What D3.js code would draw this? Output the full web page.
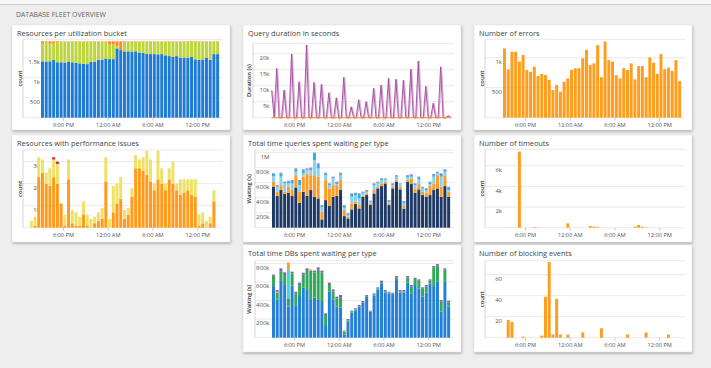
<!DOCTYPE html>
<html>
<head>
<meta charset="utf-8">
<script src="https://cdnjs.cloudflare.com/ajax/libs/d3/7.8.5/d3.min.js"></script>
<style>
  body { margin: 0; background: #eeeeee; }
  svg { display: block; font-family: 'Open Sans', sans-serif; }
</style>
</head>
<body>
<div id="viz"></div>
<script>
const day = (h, m, next) => new Date(2018, 4, next ? 2 : 1, h, m || 0);

// shared time axis
const timeTicks = [day(18), day(0, 0, true), day(6, 0, true), day(12, 0, true)];
const binStart = day(15, 0);      // half hour bins from 3:00 PM
const perfStart = day(13, 30);    // perf issues bins start earlier

// Resources per utilization bucket
const utilLow = [1410,1405,1410,1450,1385,1385,1380,1405,1385,1370,1360,1350,
  1340,1395,1395,1450,1450,1480,1465,1465,1735,1690,1658,1660,
  1655,1660,1630,1620,1595,1590,1590,1585,1590,1560,1540,1520,
  1540,1500,1500,1500,1520,1460,1450,1455,1500,1450,1590,1590];
const utilMid = [440,485,440,400,505,515,520,495,515,530,540,550,
  560,505,505,450,450,420,365,365,50,0,222,240,
  245,240,270,280,305,310,310,315,310,340,360,380,
  360,400,400,400,370,440,450,445,400,450,310,310];
const utilHigh = [60,20,60,60,20,10,10,10,10,10,10,10,
  10,10,10,10,10,10,80,80,125,220,30,10,
  10,10,10,10,10,10,10,10,10,10,10,10,
  10,10,10,10,20,10,10,10,10,10,10,10];

// Resources with performance issues
const perfHigh = [0,1,23,25,20,19,23,20,11,1, 22,2,1,1,6,1,0,2,3,4,
  21,0,7,11,13,4,6,14,27,27, 26,24,21,17,22,20,17,22,20,17,
  15,16,17,15,14,1,2,0,2,12];
const perfMid = [3,4,9,6,5,8,8,9,0,5, 9,6,6,4,6,5,4,3,4,5,
  11,4,12,9,10,4,3,4,6,4, 6,11,10,3,13,7,3,5,10,3,
  7,6,5,7,8,5,5,3,3,5];
const perfCrit = [0,0,0,0,0,0,1,1,0,0, 0,0,0,0,0,0,0,0,0,0,
  0,0,0,0,0,0,0,0,0,0, 0,0,0,0,0,0,0,0,0,0,
  0,0,0,0,0,0,0,0,0,0];

// Query duration in seconds (k), 20 minute samples from 3:00 PM
const durationK = [8.5, 0, 15.4,
  0, 0, 8.6,  0, 0, 19.9,  0, 0, 11.2,  0, 0, 22.7,  0, 0, 11.0,
  0, 0, 10.4,  0, 0, 7.8,  0, 0, 6.2,  0, 0, 12.6,  0, 0, 3.4,
  0, 0, 5.6,  0, 0, 5.0,  0, 0, 9.2,  0, 0, 10.2,  0, 0, 12.3,
  0, 0, 12.0,  0, 0, 11.7,  0, 0, 15.2,  0, 0, 17.7,  0, 0, 9.8,
  0, 0, 4.5,  0, 0, 15.9,
  0, 0, 0.6, 0];
const durationOther = [[day(15, 0), 0], [day(15, 0, true), 0]];

// Total time queries spent waiting per type (k)
const qwCpu = [546,422,502,449,466,422,537,333,480,426,502,413,
  390,111,368,289,413,426,502,155,124,244,315,257,
  413,435,302,457,524,555,590,302,524,613,511,253,
  613,582,466,511,435,413,435,502,524,413,555,413];
const qwLock = [67,58,66,31,80,80,163,147,200,298,198,287,
  290,102,267,235,155,142,133,80,23,80,31,45,
  17,22,22,45,22,35,23,22,22,22,35,36,
  22,75,58,71,45,53,120,88,176,133,145,67];
const qwIo = [75,66,112,110,44,88,46,88,44,44,68,200,
  110,58,67,44,89,14,67,31,22,89,89,88,
  27,23,22,66,44,45,31,22,22,45,36,35,
  36,23,44,62,44,36,27,90,24,134,46,22];
const qwMem = [28,14,43,15,28,35,32,57,41,8,20,90,
  57,23,23,14,15,23,23,28,14,36,23,59,
  15,14,8,14,15,14,7,14,14,14,4,23,
  23,22,14,28,14,14,23,27,14,36,23,36];
const qwOther = [8,8,10,8,8,10,12,10,12,14,12,10,
  10,8,8,8,8,8,8,8,8,8,8,8,
  8,8,6,8,8,8,6,8,8,8,4,8,
  8,8,8,8,8,8,8,8,8,8,8,8];

// Total time DBs spent waiting per type (k)
const dbCpu = [556,413,610,567,334,560,341,449,538,513,406,434,
  406,395,136,495,413,334,323,36,172,269,291,334,
  377,441,280,452,520,585,485,477,470,621,485,485,
  592,477,567,531,442,485,585,556,603,280,603,334];
const dbIo = [110,70,100,108,90,133,136,118,140,216,316,270,
  330,305,108,72,85,90,115,30,15,10,13,8,
  8,9,5,13,10,14,14,8,5,28,14,14,
  57,75,64,82,85,67,28,201,175,111,129,49];
const dbLog = [0,0,0,0,312,0,0,0,0,0,0,0,
  0,0,0,0,0,0,0,0,0,0,0,0,
  0,0,0,0,0,0,0,0,0,0,0,0,
  0,0,0,0,0,0,0,0,0,0,0,0];
const dbLock = [0,10,0,0,72,0,0,0,0,0,14,0,
  0,0,0,0,0,0,0,14,0,0,0,0,
  0,0,0,0,0,0,0,0,0,0,0,0,
  0,0,0,0,0,0,0,0,0,0,0,0];
const dbOther = [14,20,37,29,0,18,18,25,22,18,0,18,
  21,22,18,25,22,18,22,0,14,12,12,10,
  10,10,6,12,12,15,14,10,10,15,14,14,
  15,15,15,15,15,15,15,15,15,15,15,15];

// Number of errors / timeouts / blocking events
const errors = [1155,805,1100,1100,935,1045,795,765,850,695,730,710,
  630,460,545,435,600,655,795,825,825,990,1130,880,
  905,1210,675,1270,960,935,710,655,825,795,905,640,
  860,860,675,1005,915,730,1060,810,835,780,960,610];
const timeouts = [0,10,15,10,7360,0,0,0,60,30,0,0,
  0,0,0,0,0,420,0,0,0,0,0,160,
  100,80,0,0,0,0,0,0,0,0,0,100,
  260,100,40,0,0,0,0,0,0,0,0,0];
const blocking = [0,17,15,0,0,1,0,0,0,0,2,39,
  72,3,37,3,0,3,0,0,0,5,0,0,
  0,0,9,0,0,0,0,0,0,3,0,0,
  0,0,5,0,0,0,0,0,3,0,0,0];

const width = 711, height = 368;
const colX = [12, 243, 474];
const rowY = [25, 135, 245];
const rowH = [105, 107, 107];
const panelW = 218;
const plotRight = 211, plotBottom = 92.7;

const x = d3.scaleTime()
  .domain([day(12, 38), day(15, 28, true)])
  .range([11, plotRight]);
const fmtTime = d3.timeFormat('%-I:%M %p');

const svg = d3.select('#viz')
  .append('svg')
  .attr('width', width)
  .attr('height', height);

const filter = svg.append('defs').append('filter')
  .attr('id', 'shadow').attr('x', '-5%').attr('y', '-5%')
  .attr('width', '112%').attr('height', '118%');
filter.append('feDropShadow')
  .attr('dx', 0.6).attr('dy', 1.4).attr('stdDeviation', 0.9)
  .attr('flood-color', '#6f6f6f').attr('flood-opacity', 0.55);

// page header
svg.append('rect').attr('width', width).attr('height', 4).attr('fill', '#f7f7f7');
svg.append('line').attr('x1', 0).attr('x2', width).attr('y1', 4.5).attr('y2', 4.5)
  .attr('stroke', '#c9c9c9');
svg.append('text').attr('x', 16).attr('y', 16.5)
  .attr('font-size', 6.9).attr('fill', '#666')
  .text('DATABASE FLEET OVERVIEW');

function panel(col, row, title) {
  const g = svg.append('g')
    .attr('transform', `translate(${colX[col]},${rowY[row]})`);
  g.append('rect')
    .attr('width', panelW).attr('height', rowH[row])
    .attr('fill', '#fff').attr('stroke', '#e2e2e2').attr('stroke-width', 0.5)
    .attr('filter', 'url(#shadow)');
  g.append('text').attr('x', 5).attr('y', 11)
    .attr('font-size', 7.4).attr('fill', '#444')
    .text(title);
  return g;
}

function frame(g, y, o) {
  const top = y.range()[1];
  g.selectAll('.grid')
    .data([top].concat(o.ticks.map(d => y(d)), [plotBottom]))
    .enter().append('line')
    .attr('x1', o.axisX).attr('x2', plotRight)
    .attr('y1', d => d).attr('y2', d => d)
    .attr('stroke', '#e3e3e3').attr('stroke-width', 0.8);
  g.append('line')
    .attr('x1', o.axisX).attr('x2', o.axisX)
    .attr('y1', top).attr('y2', plotBottom)
    .attr('stroke', '#cccccc').attr('stroke-width', 0.8);
  g.selectAll('.ylab')
    .data(o.ticks).enter().append('text')
    .attr('x', o.labelX).attr('y', d => y(d) + 6.3)
    .attr('text-anchor', 'end')
    .attr('font-size', 6).attr('fill', '#555')
    .text((d, i) => o.labels[i]);
  g.append('text')
    .attr('transform', `translate(${o.titleX},${(top + plotBottom) / 2}) rotate(-90)`)
    .attr('text-anchor', 'middle')
    .attr('font-size', 5.8).attr('font-weight', 600).attr('fill', '#333')
    .text(o.title);

  const xa = g.append('g')
    .attr('transform', `translate(0,${plotBottom})`)
    .call(d3.axisBottom(x).tickValues(timeTicks).tickFormat(fmtTime)
      .tickSize(3).tickPadding(2));
  xa.attr('font-family', null).attr('font-size', null);
  xa.select('.domain').remove();
  xa.selectAll('line').attr('stroke', '#bbbbbb').attr('stroke-width', 0.8);
  xa.selectAll('text').attr('font-size', 5.7).attr('fill', '#555');
}

function bars(g, y, start, series, colors) {
  const keys = series.map((s, k) => 'k' + k);
  const rows = series[0].map((v, i) => {
    const r = {t: d3.timeMinute.offset(start, 30 * i)};
    series.forEach((s, k) => { r[keys[k]] = s[i]; });
    return r;
  });
  const layers = d3.stack().keys(keys)(rows);
  g.append('g').selectAll('g')
    .data(layers).enter().append('g')
    .attr('fill', (d, k) => colors[k])
    .selectAll('rect')
    .data(d => d).enter().append('rect')
    .attr('x', d => x(d.data.t) + 0.35)
    .attr('width', d => x(d3.timeMinute.offset(d.data.t, 30)) - x(d.data.t) - 0.75)
    .attr('y', d => y(d[1]))
    .attr('height', d => Math.max(0, y(d[0]) - y(d[1])));
}

const left = {axisX: 11, labelX: 28, titleX: 10};
const mid = {axisX: 10, labelX: 26.5, titleX: 7.8};

// 1. Resources per utilization bucket
{
  const g = panel(0, 0, 'Resources per utilization bucket');
  const y = d3.scaleLinear().domain([0, 1960]).range([plotBottom, 14.3]);
  frame(g, y, Object.assign({ticks: [500, 1000, 1500], labels: ['500', '1k', '1.5k'], title: 'count'}, left));
  bars(g, y, binStart, [utilLow, utilMid, utilHigh], ['#1f7ad3', '#bdd53d', '#ff8a1f']);
}

// 2. Resources with performance issues
{
  const g = panel(0, 1, 'Resources with performance issues');
  const y = d3.scaleLinear().domain([0, 35.3]).range([plotBottom, 15]);
  frame(g, y, Object.assign({ticks: [10, 20, 30], labels: ['10', '20', '30'], title: 'count'}, left));
  bars(g, y, perfStart, [perfHigh, perfMid, perfCrit], ['#ff9a1c', '#efe067', '#d3212d']);
}

// 3. Query duration in seconds
{
  const g = panel(1, 0, 'Query duration in seconds');
  const y = d3.scaleLinear().domain([0, 23.25]).range([plotBottom, 18.3]);
  frame(g, y, Object.assign({ticks: [5, 10, 15, 20], labels: ['5k', '10k', '15k', '20k'], title: 'Duration (s)'}, mid));
  const pts = durationK.map((v, i) => [d3.timeMinute.offset(binStart, 20 * i), v]);
  const line = d3.line().x(d => x(d[0])).y(d => y(d[1]));
  g.append('path').attr('d', line(pts))
    .attr('transform', 'translate(0.9,0)')
    .attr('fill', 'none').attr('stroke', '#dcb0da').attr('stroke-width', 1.4);
  g.append('path').attr('d', line(pts))
    .attr('fill', 'none').attr('stroke', '#a04a9c').attr('stroke-width', 0.9);
  g.append('path').attr('d', line(durationOther))
    .attr('fill', 'none').attr('stroke', '#ff8a1f').attr('stroke-width', 1);
}

// 4. Total time queries spent waiting per type
{
  const g = panel(1, 1, 'Total time queries spent waiting per type');
  const y = d3.scaleLinear().domain([0, 1036]).range([plotBottom, 15]);
  frame(g, y, Object.assign({ticks: [200, 400, 600, 800, 1000],
    labels: ['200k', '400k', '600k', '800k', '1M'], title: 'Waiting (s)'}, mid, {axisX: 12}));
  bars(g, y, binStart, [qwCpu, qwLock, qwIo, qwMem, qwOther],
    ['#1e3a64', '#ff9c26', '#8fd0ef', '#26b5e6', '#9b5fb2']);
}

// 5. Total time DBs spent waiting per type
{
  const g = panel(1, 2, 'Total time DBs spent waiting per type');
  const y = d3.scaleLinear().domain([0, 829]).range([plotBottom, 15.7]);
  frame(g, y, Object.assign({ticks: [200, 400, 600, 800],
    labels: ['200k', '400k', '600k', '800k'], title: 'Waiting (s)'}, mid, {axisX: 12}));
  bars(g, y, binStart, [dbCpu, dbIo, dbLog, dbLock, dbOther],
    ['#2480d6', '#33a85a', '#40d9d6', '#ff9a26', '#8d5cb0']);
}

// 6. Number of errors
{
  const g = panel(2, 0, 'Number of errors');
  const y = d3.scaleLinear().domain([0, 1307]).range([plotBottom, 14.3]);
  frame(g, y, Object.assign({ticks: [500, 1000], labels: ['500', '1k'], title: 'count'}, left));
  bars(g, y, binStart, [errors], ['#ff9d1f']);
}

// 7. Number of timeouts
{
  const g = panel(2, 1, 'Number of timeouts');
  const y = d3.scaleLinear().domain([0, 7590]).range([plotBottom, 14.3]);
  frame(g, y, Object.assign({ticks: [2000, 4000, 6000], labels: ['2k', '4k', '6k'], title: 'count'}, left));
  bars(g, y, binStart, [timeouts], ['#ff9d1f']);
}

// 8. Number of blocking events
{
  const g = panel(2, 2, 'Number of blocking events');
  const y = d3.scaleLinear().domain([0, 73.3]).range([plotBottom, 15.7]);
  frame(g, y, Object.assign({ticks: [20, 40, 60], labels: ['20', '40', '60'], title: 'count'}, left));
  bars(g, y, binStart, [blocking], ['#ff9d1f']);
}
</script>
</body>
</html>
